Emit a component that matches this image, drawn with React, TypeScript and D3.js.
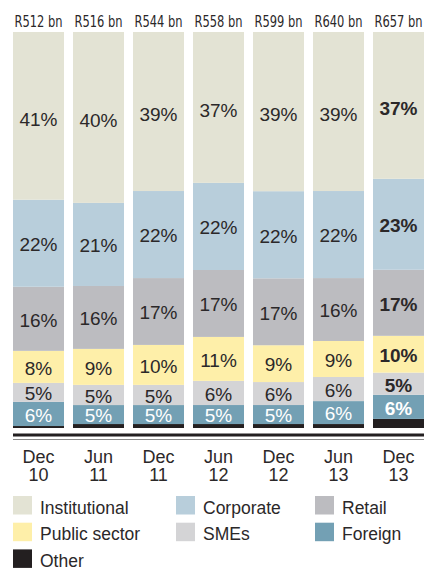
import React from "react";
import * as d3 from "d3";

const months = ["Dec", "Jun", "Dec", "Jun", "Dec", "Jun", "Dec"];
const years = ["10", "11", "11", "12", "12", "13", "13"];
const totals = ["R512 bn", "R516 bn", "R544 bn", "R558 bn", "R599 bn", "R640 bn", "R657 bn"];

// shares of each bar (as drawn), bottom segment to top segment
const other = [0.5, 1.0, 1.0, 1.0, 1.0, 1.0, 2.3];
const foreign = [6.1, 4.8, 4.8, 4.8, 4.8, 5.8, 6.1];
const smes = [4.8, 5.1, 5.1, 6.1, 5.8, 6.1, 5.6];
const publicSector = [8.1, 9.1, 10.1, 11.1, 9.3, 9.1, 9.3];
const retail = [16.2, 15.9, 16.9, 16.9, 16.9, 15.9, 16.7];
const corporate = [22.0, 21.0, 22.0, 22.0, 22.0, 22.0, 23.0];
const institutional = [42.4, 43.2, 40.2, 38.1, 40.2, 40.2, 37.1];

// printed labels
const foreignLabels = [6, 5, 5, 5, 5, 6, 6];
const smesLabels = [5, 5, 5, 6, 6, 6, 5];
const publicLabels = [8, 9, 10, 11, 9, 9, 10];
const retailLabels = [16, 16, 17, 17, 17, 16, 17];
const corporateLabels = [22, 21, 22, 22, 22, 22, 23];
const institutionalLabels = [41, 40, 39, 37, 39, 39, 37];

const seriesKeys = ["other", "foreign", "smes", "publicSector", "retail", "corporate", "institutional"];
const seriesNames: Record<string, string> = {
  institutional: "Institutional",
  corporate: "Corporate",
  retail: "Retail",
  publicSector: "Public sector",
  smes: "SMEs",
  foreign: "Foreign",
  other: "Other",
};
const colors: Record<string, string> = {
  institutional: "#e3e3d4",
  corporate: "#b8cedb",
  retail: "#bcbcc0",
  publicSector: "#feefa9",
  smes: "#d4d4d6",
  foreign: "#73a0b4",
  other: "#231f20",
};
const labelData: Record<string, number[] | null> = {
  other: null,
  foreign: foreignLabels,
  smes: smesLabels,
  publicSector: publicLabels,
  retail: retailLabels,
  corporate: corporateLabels,
  institutional: institutionalLabels,
};
const legendOrder = ["institutional", "corporate", "retail", "publicSector", "smes", "foreign", "other"];

const W = 425;
const H = 568;
const TEXT = "#2b2829";

export default function App() {
  const cats = months.map((m, i) => `${m} ${years[i]}`);
  const rows = cats.map((c, i) => ({
    cat: c,
    other: other[i],
    foreign: foreign[i],
    smes: smes[i],
    publicSector: publicSector[i],
    retail: retail[i],
    corporate: corporate[i],
    institutional: institutional[i],
  }));
  const stacked = d3.stack<any>().keys(seriesKeys).offset(d3.stackOffsetExpand)(rows);

  const x = d3.scaleBand<string>().domain(cats).range([13, 424]).paddingInner(0.15).paddingOuter(0);
  const y = d3.scaleLinear().domain([0, 1]).range([428, 32]);
  const bw = x.bandwidth();

  const font = "'Liberation Sans', Arial, Helvetica, sans-serif";

  return (
    <svg
      width={W}
      height={H}
      style={{ position: "absolute", left: 0, top: 0, background: "#fff" }}
      fontFamily={font}
    >
      {stacked.map((s) => (
        <g key={s.key}>
          {s.map((d, i) => (
            <rect
              key={i}
              x={x(cats[i])}
              y={y(d[1])}
              width={bw}
              height={y(d[0]) - y(d[1])}
              fill={colors[s.key]}
            />
          ))}
        </g>
      ))}
      {stacked.map((s) => {
        const labs = labelData[s.key];
        if (!labs) return null;
        return (
          <g key={"l" + s.key}>
            {s.map((d, i) => (
              <text
                key={i}
                x={(x(cats[i]) as number) + bw / 2}
                y={(y(d[0]) + y(d[1])) / 2 + (s.key === "institutional" ? 3 : 1)}
                dy="0.36em"
                textAnchor="middle"
                fontSize={19}
                fontWeight={i === cats.length - 1 ? 700 : 400}
                fill={s.key === "foreign" ? "#ffffff" : TEXT}
              >
                {labs[i]}%
              </text>
            ))}
          </g>
        );
      })}
      {totals.map((t, i) => (
        <text
          key={"t" + i}
          x={(x(cats[i]) as number) + bw / 2}
          y={27}
          textAnchor="middle"
          fontSize={16}
          fontFamily="'Liberation Sans Narrow', 'DejaVu Sans Condensed', Arial, sans-serif"
          textLength={48}
          lengthAdjust="spacingAndGlyphs"
          fill={TEXT}
        >
          {t}
        </text>
      ))}
      <line x1={13} x2={424} y1={435} y2={435} stroke="#231f20" strokeWidth={3} />
      <line x1={13} x2={424} y1={439.5} y2={439.5} stroke="#8a8a8a" strokeWidth={1} />
      {cats.map((c, i) => (
        <g key={"a" + i}>
          <text x={(x(c) as number) + bw / 2} y={462.5} textAnchor="middle" fontSize={18} fill={TEXT}>
            {months[i]}
          </text>
          <text x={(x(c) as number) + bw / 2} y={480.5} textAnchor="middle" fontSize={18} fill={TEXT}>
            {years[i]}
          </text>
        </g>
      ))}
      {legendOrder.map((k, i) => {
        const col = i % 3;
        const row = Math.floor(i / 3);
        const lx = [13, 176, 315][col];
        const ly = 496 + row * 26.7;
        return (
          <g key={"lg" + k}>
            <rect x={lx} y={ly} width={19} height={18.5} fill={colors[k]} />
            <text x={lx + 27} y={ly + 17.5} fontSize={17.5} fill={TEXT}>
              {seriesNames[k]}
            </text>
          </g>
        );
      })}
    </svg>
  );
}
